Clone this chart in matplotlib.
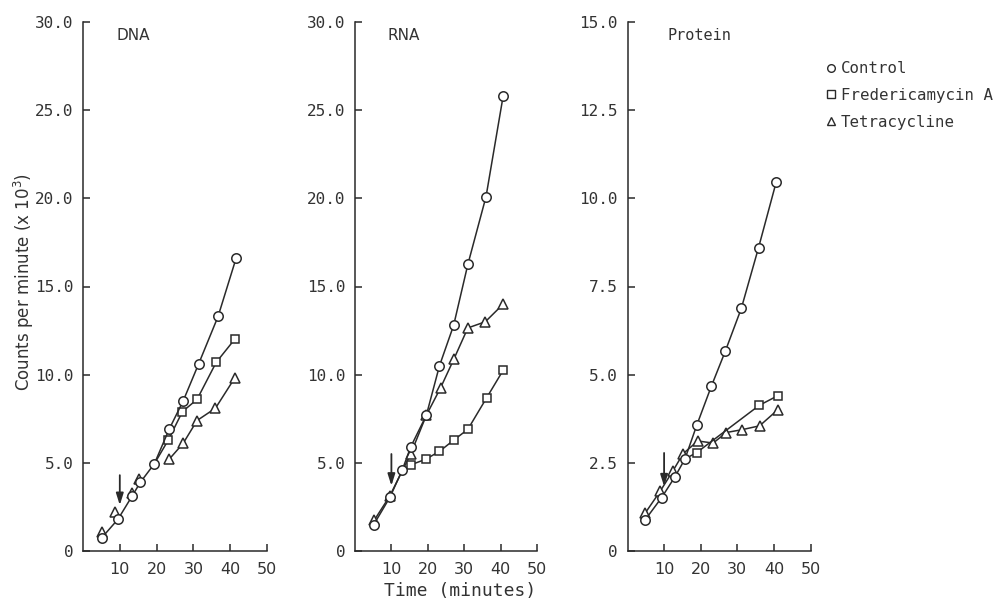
import matplotlib
matplotlib.use("Agg")
import matplotlib.pyplot as plt
from matplotlib.lines import Line2D

# ---------------- data ----------------
dna_ctrl_x = [5.1, 9.5, 13.3, 15.6, 19.4, 23.4, 27.2, 31.4, 36.7, 41.6]
dna_ctrl_y = [0.75, 1.8, 3.1, 3.9, 4.95, 6.9, 8.5, 10.6, 13.3, 16.6]
dna_fred_x = [19.4, 23.2, 27.0, 31.0, 36.2, 41.2]
dna_fred_y = [4.95, 6.3, 7.9, 8.6, 10.7, 12.0]
dna_tetra_x = [5.1, 8.7, 13.3, 15.1, 23.4, 27.2, 31.0, 36.0, 41.2]
dna_tetra_y = [1.05, 2.2, 3.3, 4.1, 5.2, 6.1, 7.4, 8.1, 9.8]

rna_ctrl_x = [5.1, 9.6, 13.0, 15.3, 19.6, 23.2, 27.1, 31.0, 36.0, 40.7]
rna_ctrl_y = [1.48, 3.05, 4.6, 5.9, 7.7, 10.5, 12.8, 16.25, 20.1, 25.8]
rna_fred_x = [13.0, 15.5, 19.4, 23.2, 27.2, 31.0, 36.2, 40.7]
rna_fred_y = [4.6, 4.9, 5.2, 5.65, 6.3, 6.9, 8.7, 10.25]
rna_tetra_x = [5.3, 9.5, 15.3, 19.6, 23.5, 27.2, 31.0, 35.8, 40.7]
rna_tetra_y = [1.75, 3.1, 5.5, 7.7, 9.25, 10.9, 12.65, 13.0, 14.0]

prot_ctrl_x = [4.8, 9.3, 13.0, 15.7, 18.9, 22.9, 26.7, 31.1, 35.8, 40.6]
prot_ctrl_y = [0.88, 1.51, 2.11, 2.61, 3.56, 4.67, 5.66, 6.88, 8.6, 10.45]
prot_fred_x = [15.7, 18.9, 36.0, 41.0]
prot_fred_y = [2.61, 2.79, 4.13, 4.4]
prot_tetra_x = [4.8, 8.9, 12.4, 15.2, 19.2, 23.4, 27.0, 31.3, 36.1, 41.0]
prot_tetra_y = [1.07, 1.69, 2.27, 2.76, 3.12, 3.06, 3.36, 3.44, 3.55, 4.0]

x_ticks = [10, 20, 30, 40, 50]
dna_yticks = [0, 5, 10, 15, 20, 25, 30]
dna_ylabels = ["0", "5.0", "10.0", "15.0", "20.0", "25.0", "30.0"]
prot_yticks = [0, 2.5, 5, 7.5, 10, 12.5, 15]
prot_ylabels = ["0", "2.5", "5.0", "7.5", "10.0", "12.5", "15.0"]

titles = ["DNA", "RNA", "Protein"]
series_names = ["Control", "Fredericamycin A", "Tetracycline"]
drug_time = 10
arrow_top = [4.3, 5.5, 2.78]
arrow_tip = [2.6, 3.7, 1.83]

# ---------------- style ----------------
INK = "#2a2a2a"
TXT = "#333333"
MONO = "DejaVu Sans Mono"
SANS = "DejaVu Sans"
plt.rcParams["font.family"] = [MONO, SANS]

fig = plt.figure(figsize=(9.96, 6.03), dpi=100)
fig.patch.set_facecolor("white")

panel_rects = [
    (83 / 996, 1 - 551 / 603, 184 / 996, 529 / 603),
    (355 / 996, 1 - 551 / 603, 182 / 996, 529 / 603),
    (627.5 / 996, 1 - 551 / 603, 183 / 996, 529 / 603),
]

panels = [
    dict(ctrl=(dna_ctrl_x, dna_ctrl_y), fred=(dna_fred_x, dna_fred_y, 1),
         tetra=[(dna_tetra_x[:4], dna_tetra_y[:4], False), (dna_tetra_x[4:], dna_tetra_y[4:], True)],
         ylim=30, yt=dna_yticks, yl=dna_ylabels),
    dict(ctrl=(rna_ctrl_x, rna_ctrl_y), fred=(rna_fred_x, rna_fred_y, 1),
         tetra=[(rna_tetra_x, rna_tetra_y, True)],
         ylim=30, yt=dna_yticks, yl=dna_ylabels),
    dict(ctrl=(prot_ctrl_x, prot_ctrl_y), fred=(prot_fred_x, prot_fred_y, 1),
         tetra=[(prot_tetra_x, prot_tetra_y, True)],
         ylim=15, yt=prot_yticks, yl=prot_ylabels),
]

mk = dict(markersize=6.8, markerfacecolor="white", markeredgecolor=INK,
          markeredgewidth=1.1, color=INK, linewidth=1.1)

for i, (rect, p) in enumerate(zip(panel_rects, panels)):
    ax = fig.add_axes(rect)
    # tetracycline
    for tx, ty, with_line in p["tetra"]:
        ax.plot(tx, ty, marker="^", linestyle="-" if with_line else "none", zorder=2,
                **{**mk, "markersize": 7.2})
    # fredericamycin (first point shared with control -> no marker there)
    fx, fy, start = p["fred"]
    ax.plot(fx, fy, marker="s", markevery=list(range(start, len(fx))), zorder=3,
            **{**mk, "markersize": 6.3})
    # control
    cx, cy = p["ctrl"]
    ax.plot(cx, cy, marker="o", zorder=4, **mk)

    # drug addition arrow
    ax.annotate("", xy=(drug_time, arrow_tip[i]), xytext=(drug_time, arrow_top[i]),
                arrowprops=dict(arrowstyle="-|>,head_length=0.7,head_width=0.22",
                                color=INK, lw=1.3, shrinkA=0, shrinkB=0), zorder=5)

    ax.set_xlim(0, 50)
    ax.set_ylim(0, p["ylim"])
    ax.set_xticks(x_ticks)
    ax.set_xticklabels([str(t) for t in x_ticks])
    ax.set_yticks(p["yt"])
    ax.set_yticklabels(p["yl"])
    for s in ("top", "right"):
        ax.spines[s].set_visible(False)
    for s in ("left", "bottom"):
        ax.spines[s].set_color(INK)
        ax.spines[s].set_linewidth(1.1)
    ax.tick_params(direction="in", length=5, width=1.1, color=INK,
                   labelcolor=TXT)
    ax.tick_params(axis="x", pad=8, labelsize=11.5)
    ax.tick_params(axis="y", pad=7, labelsize=11.5)
    for lab in ax.get_xticklabels():
        lab.set_family([SANS])
    for lab in ax.get_yticklabels():
        lab.set_family([MONO])
    ax.patch.set_alpha(0)

    ax.text(0.18 if i < 2 else 0.22, 0.975, titles[i], transform=ax.transAxes,
            ha="left", va="center", fontsize=11, color=TXT,
            family=[SANS] if i < 2 else [MONO])

# axis labels
fig.text(460 / 996, 1 - 591 / 603, "Time (minutes)", ha="center", va="center",
         fontsize=13, color=TXT, family=[MONO])
fig.text(24 / 996, 1 - 282 / 603, "Counts per minute (x 10$^3$)", ha="center", va="center",
         rotation=90, fontsize=12, color=TXT, family=[SANS])

# legend
handles = [
    Line2D([], [], marker="o", linestyle="none", markersize=5.5, markerfacecolor="white",
           markeredgecolor=INK, markeredgewidth=1.0),
    Line2D([], [], marker="s", linestyle="none", markersize=5.5, markerfacecolor="white",
           markeredgecolor=INK, markeredgewidth=1.0),
    Line2D([], [], marker="^", linestyle="none", markersize=6, markerfacecolor="white",
           markeredgecolor=INK, markeredgewidth=1.0),
]
leg = fig.legend(handles, series_names, loc="upper left",
                 bbox_to_anchor=(826 / 996, 1 - 61 / 603), frameon=False,
                 handlelength=0.6, handletextpad=0.35, labelspacing=0.75,
                 borderaxespad=0, borderpad=0,
                 prop=dict(family=MONO, size=11.3))
for t in leg.get_texts():
    t.set_color(TXT)

fig.savefig("out.png", dpi=100, facecolor="white")
